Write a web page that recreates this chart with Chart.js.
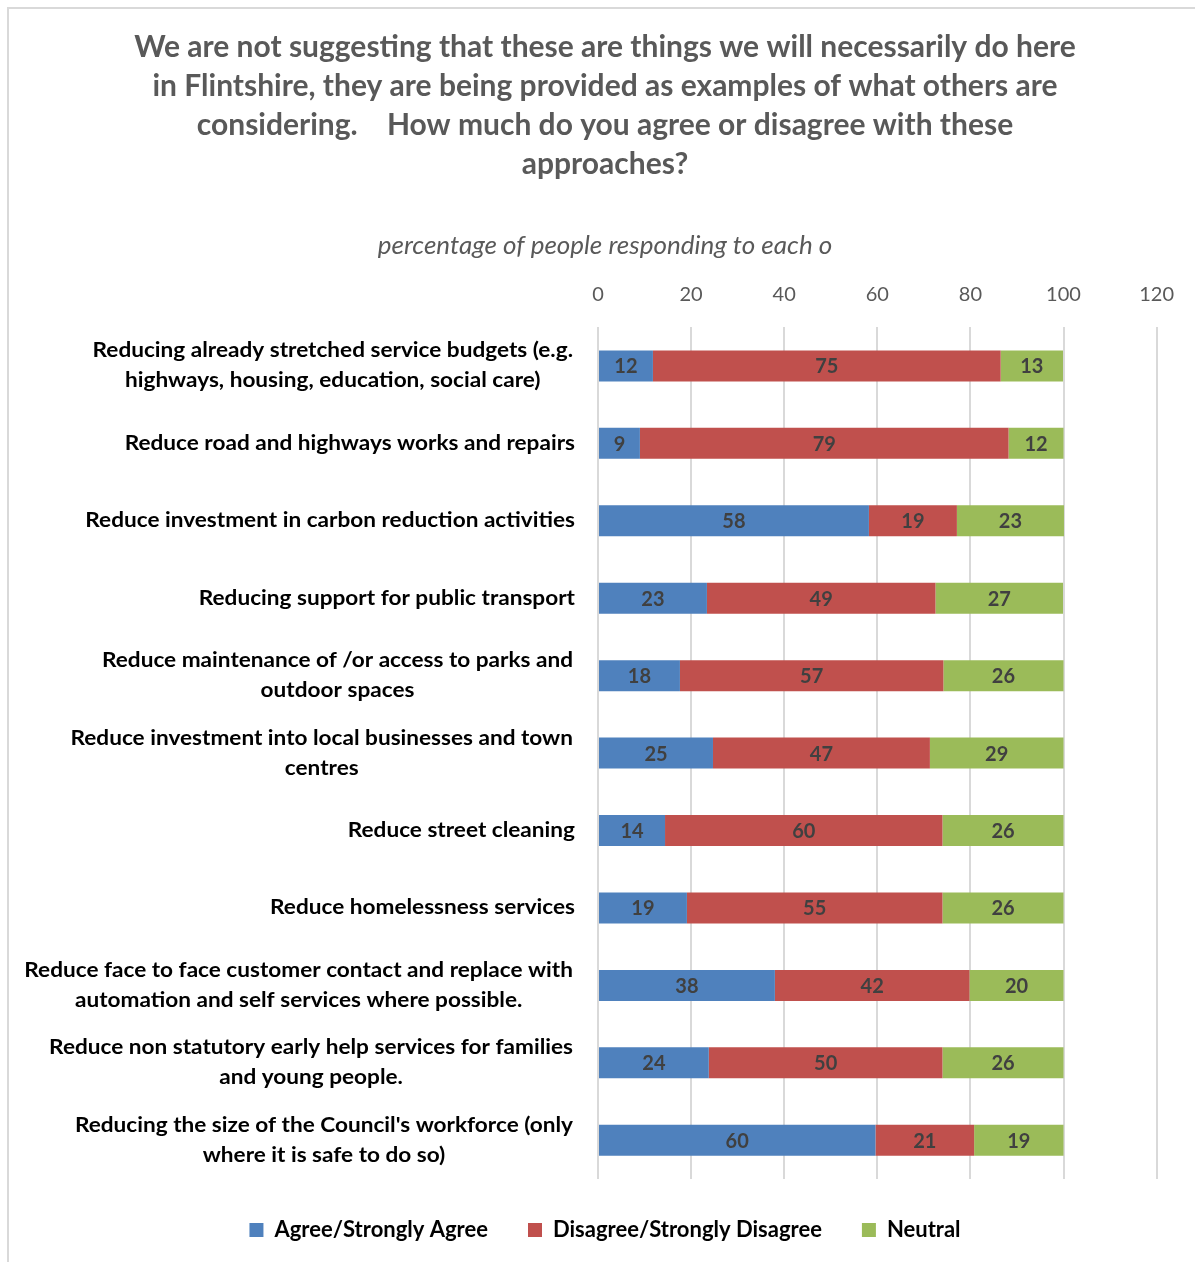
<!DOCTYPE html>
<html>
<head>
<meta charset="utf-8">
<script src="https://cdn.jsdelivr.net/npm/chart.js@4"></script>
<style>
  html, body { margin: 0; padding: 0; background: #fff; overflow: hidden; }
  #frame { position: absolute; left: 7px; top: 7px; width: 1300px; height: 1400px;
           border-left: 2px solid #d9d9d9; border-top: 2px solid #d9d9d9; }
  #chart { position: absolute; left: 0; top: 0; }
</style>
</head>
<body>
<div id="frame"></div>
<canvas id="chart" width="1195" height="1262"></canvas>
<script>
// survey statements (already wrapped the way the report shows them)
const categories = [
  ['Reducing already stretched service budgets (e.g.', 'highways, housing, education, social care)'],
  ['Reduce road and highways works and repairs'],
  ['Reduce investment in carbon reduction activities'],
  ['Reducing support for public transport'],
  ['Reduce maintenance of /or access to parks and', 'outdoor spaces'],
  ['Reduce investment into local businesses and town', 'centres'],
  ['Reduce street cleaning'],
  ['Reduce homelessness services'],
  ['Reduce face to face customer contact and replace with', 'automation and self services where possible.'],
  ['Reduce non statutory early help services for families', 'and young people.'],
  ["Reducing the size of the Council's workforce (only", 'where it is safe to do so)']
];

// percentages (labels show them rounded)
const agree    = [11.8, 9.0, 58.2, 23.4, 17.6, 24.7, 14.4, 19.1, 38.0, 23.8, 59.6];
const disagree = [74.7, 79.2, 18.9, 49.1, 56.6, 46.6, 59.6, 54.9, 41.8, 50.2, 21.2];
const neutral  = [13.4, 11.8, 23.0, 27.4, 25.8, 28.7, 26.0, 26.0, 20.2, 26.0, 19.2];

const seriesNames = ['Agree/Strongly Agree', 'Disagree/Strongly Disagree', 'Neutral'];
const xTicks = [0, 20, 40, 60, 80, 100, 120];

const FONT = 'Lato';

const titleLines = [
  'We are not suggesting that these are things we will necessarily do here',
  'in Flintshire, they are being provided as examples of what others are',
  'considering.    How much do you agree or disagree with these',
  'approaches?'
];

// writes the rounded value in the middle of every bar segment
const barValues = {
  id: 'barValues',
  afterDatasetsDraw(chart) {
    const ctx = chart.ctx;
    ctx.save();
    ctx.font = 'bold 20px ' + FONT;
    ctx.fillStyle = '#404040';
    ctx.textAlign = 'center';
    ctx.textBaseline = 'middle';
    chart.data.datasets.forEach((ds, di) => {
      chart.getDatasetMeta(di).data.forEach((bar, i) => {
        const v = ds.data[i];
        ctx.fillText(Math.round(v), (bar.x + bar.base) / 2, bar.y + 1);
      });
    });
    ctx.restore();
  }
};

// category labels: each block centred on itself, right edge next to the plot.
// the source text is a bit wider than Lato, so stretch it sideways a little
const catLabels = {
  id: 'catLabels',
  afterDraw(chart) {
    const ctx = chart.ctx;
    const y = chart.scales.y;
    const stretch = 1.13;
    ctx.save();
    ctx.font = 'bold 20px ' + FONT;
    ctx.fillStyle = '#000';
    ctx.textAlign = 'center';
    ctx.textBaseline = 'middle';
    categories.forEach((lines, i) => {
      const right = chart.chartArea.left - (lines.length > 1 ? 25 : 23);
      const cy = y.getPixelForValue(i);
      const w = Math.max(...lines.map(l => ctx.measureText(l).width)) * stretch;
      const cx = right - w / 2;
      lines.forEach((l, j) => {
        ctx.save();
        ctx.translate(cx, cy + (j - (lines.length - 1) / 2) * 30);
        ctx.scale(stretch, 1);
        ctx.fillText(l, 0, 0);
        ctx.restore();
      });
    });
    ctx.restore();
  }
};

new Chart(document.getElementById('chart'), {
  type: 'bar',
  data: {
    labels: categories,
    datasets: [
      { label: seriesNames[0], data: agree, backgroundColor: '#4F81BD' },
      { label: seriesNames[1], data: disagree, backgroundColor: '#C0504D' },
      { label: seriesNames[2], data: neutral, backgroundColor: '#9BBB59' }
    ]
  },
  options: {
    indexAxis: 'y',
    responsive: false,
    animation: false,
    devicePixelRatio: 1,
    barPercentage: 0.4,
    categoryPercentage: 1,
    layout: { padding: { left: 53, right: 38, top: 10, bottom: 11 } },
    plugins: {
      title: {
        display: true,
        text: titleLines,
        color: '#595959',
        font: { family: FONT, size: 30, weight: 'bold', lineHeight: 1.3 },
        padding: { top: 18, bottom: 24 }
      },
      subtitle: {
        display: true,
        text: 'percentage of people responding to each o',
        color: '#595959',
        font: { family: FONT, size: 26, style: 'italic', lineHeight: 1.2 },
        padding: { top: 22, bottom: 0 }
      },
      legend: {
        position: 'bottom',
        labels: {
          color: '#000',
          font: { family: FONT, size: 22, weight: 'bold' },
          boxWidth: 14,
          boxHeight: 14,
          padding: 40
        }
      },
      tooltip: { enabled: false }
    },
    scales: {
      x: {
        position: 'top',
        stacked: true,
        min: 0,
        max: 120,
        afterBuildTicks: (scale) => { scale.ticks = xTicks.map(v => ({ value: v })); },
        ticks: {
          color: '#595959',
          font: { family: FONT, size: 20 },
          padding: 21
        },
        grid: { color: '#d9d9d9', lineWidth: 2, drawTicks: false },
        border: { display: false }
      },
      y: {
        stacked: true,
        ticks: { display: false },
        grid: { display: false },
        border: { display: false },
        afterFit: (scale) => { scale.width = 545; }
      }
    }
  },
  plugins: [barValues, catLabels]
});
</script>
</body>
</html>
